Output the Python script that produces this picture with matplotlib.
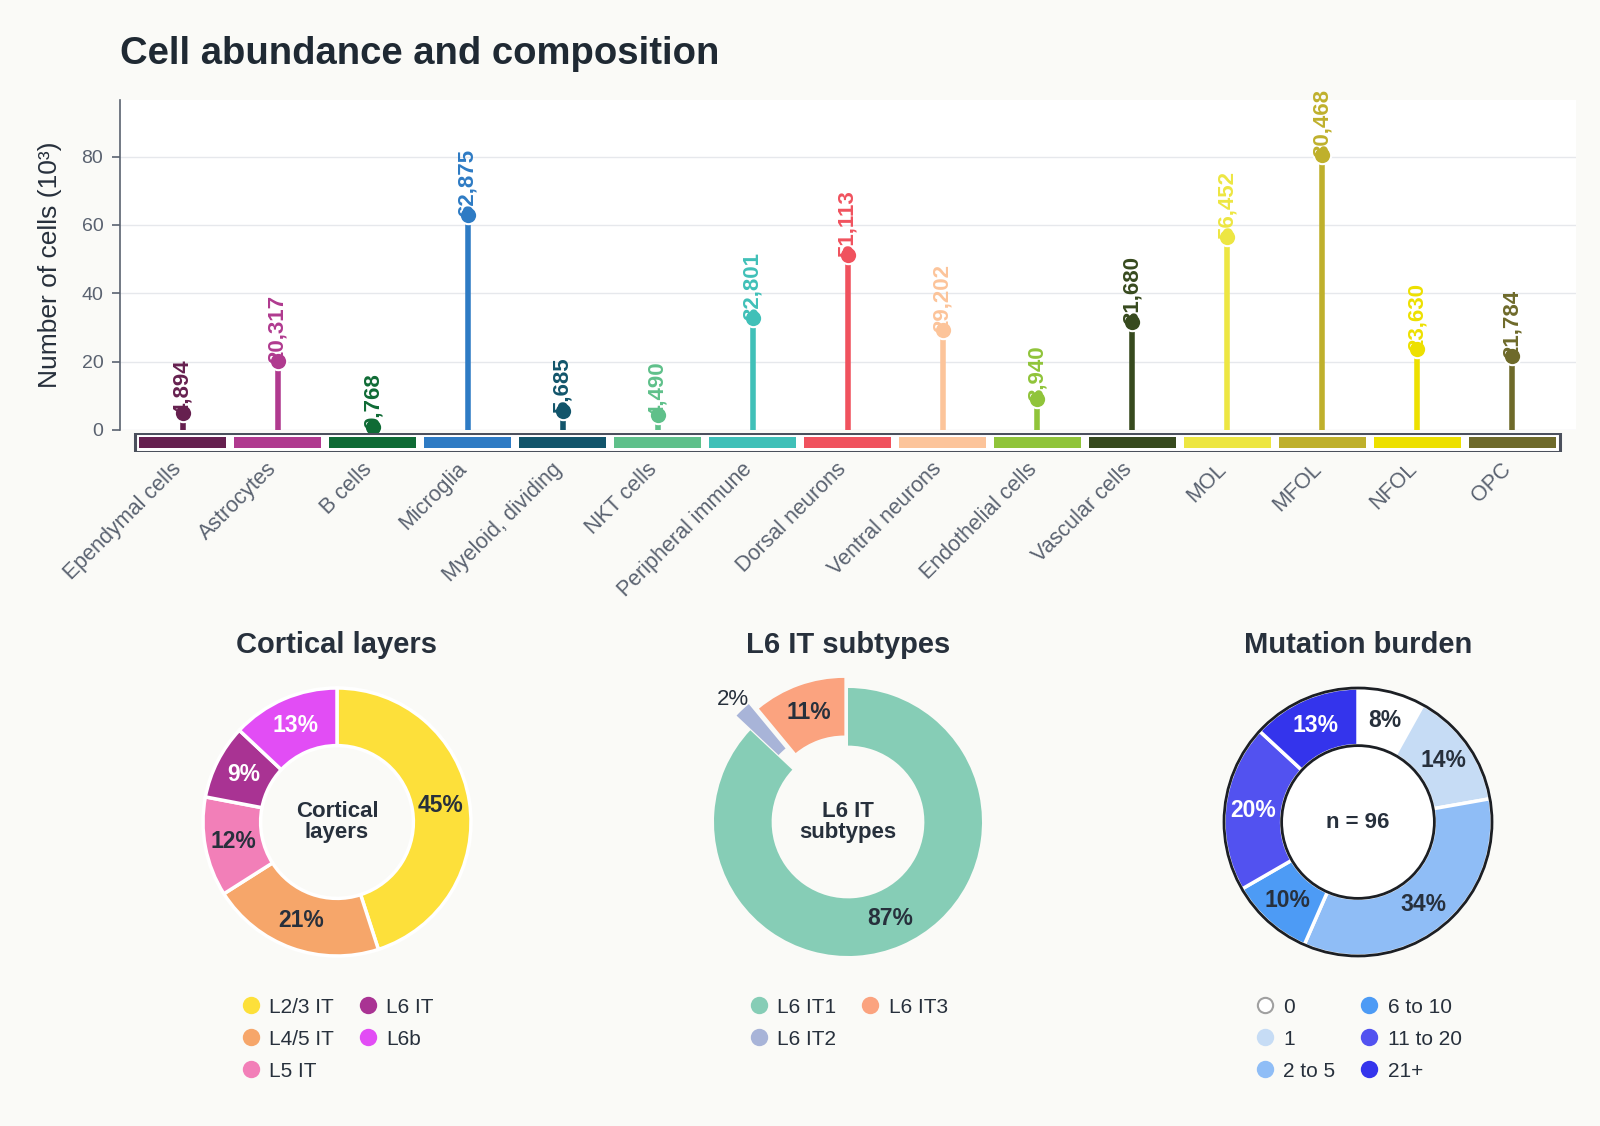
import numpy as np
import matplotlib
matplotlib.use("Agg")
import matplotlib.pyplot as plt
from matplotlib.lines import Line2D
from matplotlib.patches import Rectangle, Circle

plt.rcParams['font.family'] = ['Liberation Sans', 'DejaVu Sans']

# ---- data ----
cell_types = ['Ependymal cells', 'Astrocytes', 'B cells', 'Microglia', 'Myeloid, dividing',
              'NKT cells', 'Peripheral immune', 'Dorsal neurons', 'Ventral neurons',
              'Endothelial cells', 'Vascular cells', 'MOL', 'MFOL', 'NFOL', 'OPC']
cell_counts = [4.894, 20.317, 0.768, 62.875, 5.685, 4.490, 32.801, 51.113, 29.202,
               8.940, 31.680, 56.452, 80.468, 23.630, 21.784]  # x 10^3
cell_colors = ['#66204f', '#b03a8f', '#0f6b35', '#2e7bc4', '#12556b', '#5fc08a', '#40c0b8',
               '#f0525e', '#fcc49a', '#90c43a', '#374a1e', '#ede642', '#bfb02c', '#ede000',
               '#6e6a2a']

cortical_labels = ['L2/3 IT', 'L4/5 IT', 'L5 IT', 'L6 IT', 'L6b']
cortical_pct = [45, 21, 12, 9, 13]
cortical_colors = ['#fde03a', '#f6a66a', '#f27fb8', '#a93393', '#e24df5']

l6_labels = ['L6 IT1', 'L6 IT2', 'L6 IT3']
l6_pct = [87, 2, 11]
l6_colors = ['#86cdb6', '#a8b4d8', '#fba37f']

mut_labels = ['0', '1', '2 to 5', '6 to 10', '11 to 20', '21+']
mut_pct = [8, 14, 34, 10, 20, 13]
mut_colors = ['#ffffff', '#c6dcf5', '#8fbdf6', '#4d9bf5', '#5252f0', '#3434ec']

BG = '#fafaf7'
DARK = '#27303c'
GRAY = '#5a6270'

W, H = 1600, 1126
fig = plt.figure(figsize=(W / 100, H / 100), dpi=100, facecolor=BG)

# ---- lollipop chart ----
ax = fig.add_axes([120 / W, 1 - 430 / H, (1576 - 120) / W, (430 - 100) / H])
ax.set_facecolor('white')
x = np.arange(len(cell_types))
ymax = max(cell_counts) * 1.2
for xi, v, c in zip(x, cell_counts, cell_colors):
    ax.plot([xi, xi], [0, v], color=c, lw=4, solid_capstyle='butt', zorder=2)
    ax.plot(xi, v, 'o', color=c, ms=12.5, mec='white', mew=1.5, zorder=3, clip_on=False)
    ax.text(xi, v - 0.6, f'{v:.3f}'.replace('.', ','), rotation=90, ha='center', va='bottom',
            color=c, fontsize=16, fontweight='bold', zorder=4)
ax.set_xlim(-0.66, 14.67)
ax.set_ylim(0, ymax)
ax.set_yticks([0, 20, 40, 60, 80])
ax.set_xticks([])
ax.grid(axis='y', color='#e6e8ec', lw=1)
ax.set_axisbelow(True)
for s in ['top', 'right', 'bottom']:
    ax.spines[s].set_visible(False)
ax.spines['left'].set_color(GRAY)
ax.spines['left'].set_linewidth(1.2)
ax.tick_params(axis='y', colors=GRAY, labelsize=14, length=6, width=1.2, pad=6)
ax.set_ylabel('Number of cells (10³)', fontsize=19, color=DARK, labelpad=14)

fig.text(120 / W, 1 - 54 / H, 'Cell abundance and composition', fontsize=27.5,
         fontweight='bold', color='#1f2933', va='center', ha='left')

# colour strip under the axis
sx = fig.add_axes([120 / W, 1 - 452 / H, (1576 - 120) / W, 19 / H])
sx.set_xlim(-0.66, 14.67)
sx.set_ylim(0, 1)
sx.axis('off')
sx.add_patch(Rectangle((-0.5, 0.02), 15, 0.96, facecolor='white', edgecolor='#4b505c', lw=2.2))
for xi, c in zip(x, cell_colors):
    sx.add_patch(Rectangle((xi - 0.46, 0.2), 0.92, 0.6, facecolor=c, edgecolor='none'))
for xi, lab in zip(x, cell_types):
    sx.text(xi - 0.12, -0.35, lab, rotation=45, ha='right', va='top', rotation_mode='anchor',
            fontsize=15.5, color=GRAY)


# ---- donuts ----
def donut(cx, values, colors, txt_colors, edge, explode=None, center=None):
    size = 402
    cy = 822
    a = fig.add_axes([(cx - size / 2) / W, 1 - (cy + size / 2) / H, size / W, size / H])
    ex = explode if explode is not None else [0] * len(values)
    wedges, _ = a.pie(values, colors=colors, startangle=90, counterclock=False, explode=ex,
                      wedgeprops=dict(width=0.43, edgecolor=edge, linewidth=2.5 if edge != 'none' else 0))
    for w, v, tc, e in zip(wedges, values, txt_colors, ex):
        th = np.deg2rad((w.theta1 + w.theta2) / 2)
        if v < 4:
            r = 1.1 + e
            a.text(r * np.cos(th), r * np.sin(th), f'{v}%', ha='center', va='center',
                   fontsize=16, color=DARK)
        else:
            r = 0.785 + e
            a.text(r * np.cos(th), r * np.sin(th), f'{v}%', ha='center', va='center',
                   fontsize=16.5, fontweight='bold', color=tc)
    a.set_xlim(-1.5, 1.5)
    a.set_ylim(-1.5, 1.5)
    a.set_aspect('equal')
    a.axis('off')
    return a


ax1 = donut(337, cortical_pct, cortical_colors,
            [DARK, DARK, DARK, 'white', 'white'], 'white')
ax1.text(0, 0, 'Cortical\nlayers', ha='center', va='center', fontsize=16,
         fontweight='bold', color=DARK, linespacing=0.95)

ax2 = donut(848, l6_pct, l6_colors, [DARK, DARK, DARK], 'none', explode=[0, 0.15, 0.08])
ax2.text(0, 0, 'L6 IT\nsubtypes', ha='center', va='center', fontsize=16,
         fontweight='bold', color=DARK, linespacing=0.95)

ax3 = donut(1358, mut_pct, mut_colors,
            [DARK, DARK, DARK, DARK, 'white', 'white'], 'white')
ax3.add_patch(Circle((0, 0), 1.0, fill=False, edgecolor='#1c1f24', lw=2, zorder=5))
ax3.add_patch(Circle((0, 0), 0.57, facecolor='white', edgecolor='#1c1f24', lw=2, zorder=5))
ax3.text(0, 0, 'n = 96', ha='center', va='center', fontsize=16,
         fontweight='bold', color=DARK, zorder=6)

for cx, title in [(337, 'Cortical layers'), (848, 'L6 IT subtypes'), (1358, 'Mutation burden')]:
    fig.text(cx / W, 1 - 645 / H, title, ha='center', va='center', fontsize=21,
             fontweight='bold', color=DARK)


def legend(cx, labels, colors):
    handles = []
    for c in colors:
        ec = '#a0a0a0' if c == '#ffffff' else c
        handles.append(Line2D([], [], marker='o', linestyle='', markersize=11,
                              markerfacecolor=c, markeredgecolor=ec, markeredgewidth=1.5))
    fig.legend(handles, labels, loc='upper center', bbox_to_anchor=(cx / W, 1 - 979 / H),
               ncol=2, frameon=False, fontsize=15, handletextpad=0.4, columnspacing=1.1,
               labelspacing=0.62, handlelength=1.0, labelcolor=DARK)


legend(337, cortical_labels, cortical_colors)
legend(848, l6_labels, l6_colors)
legend(1358, mut_labels, mut_colors)

fig.savefig('out.png', dpi=100, facecolor=BG)
